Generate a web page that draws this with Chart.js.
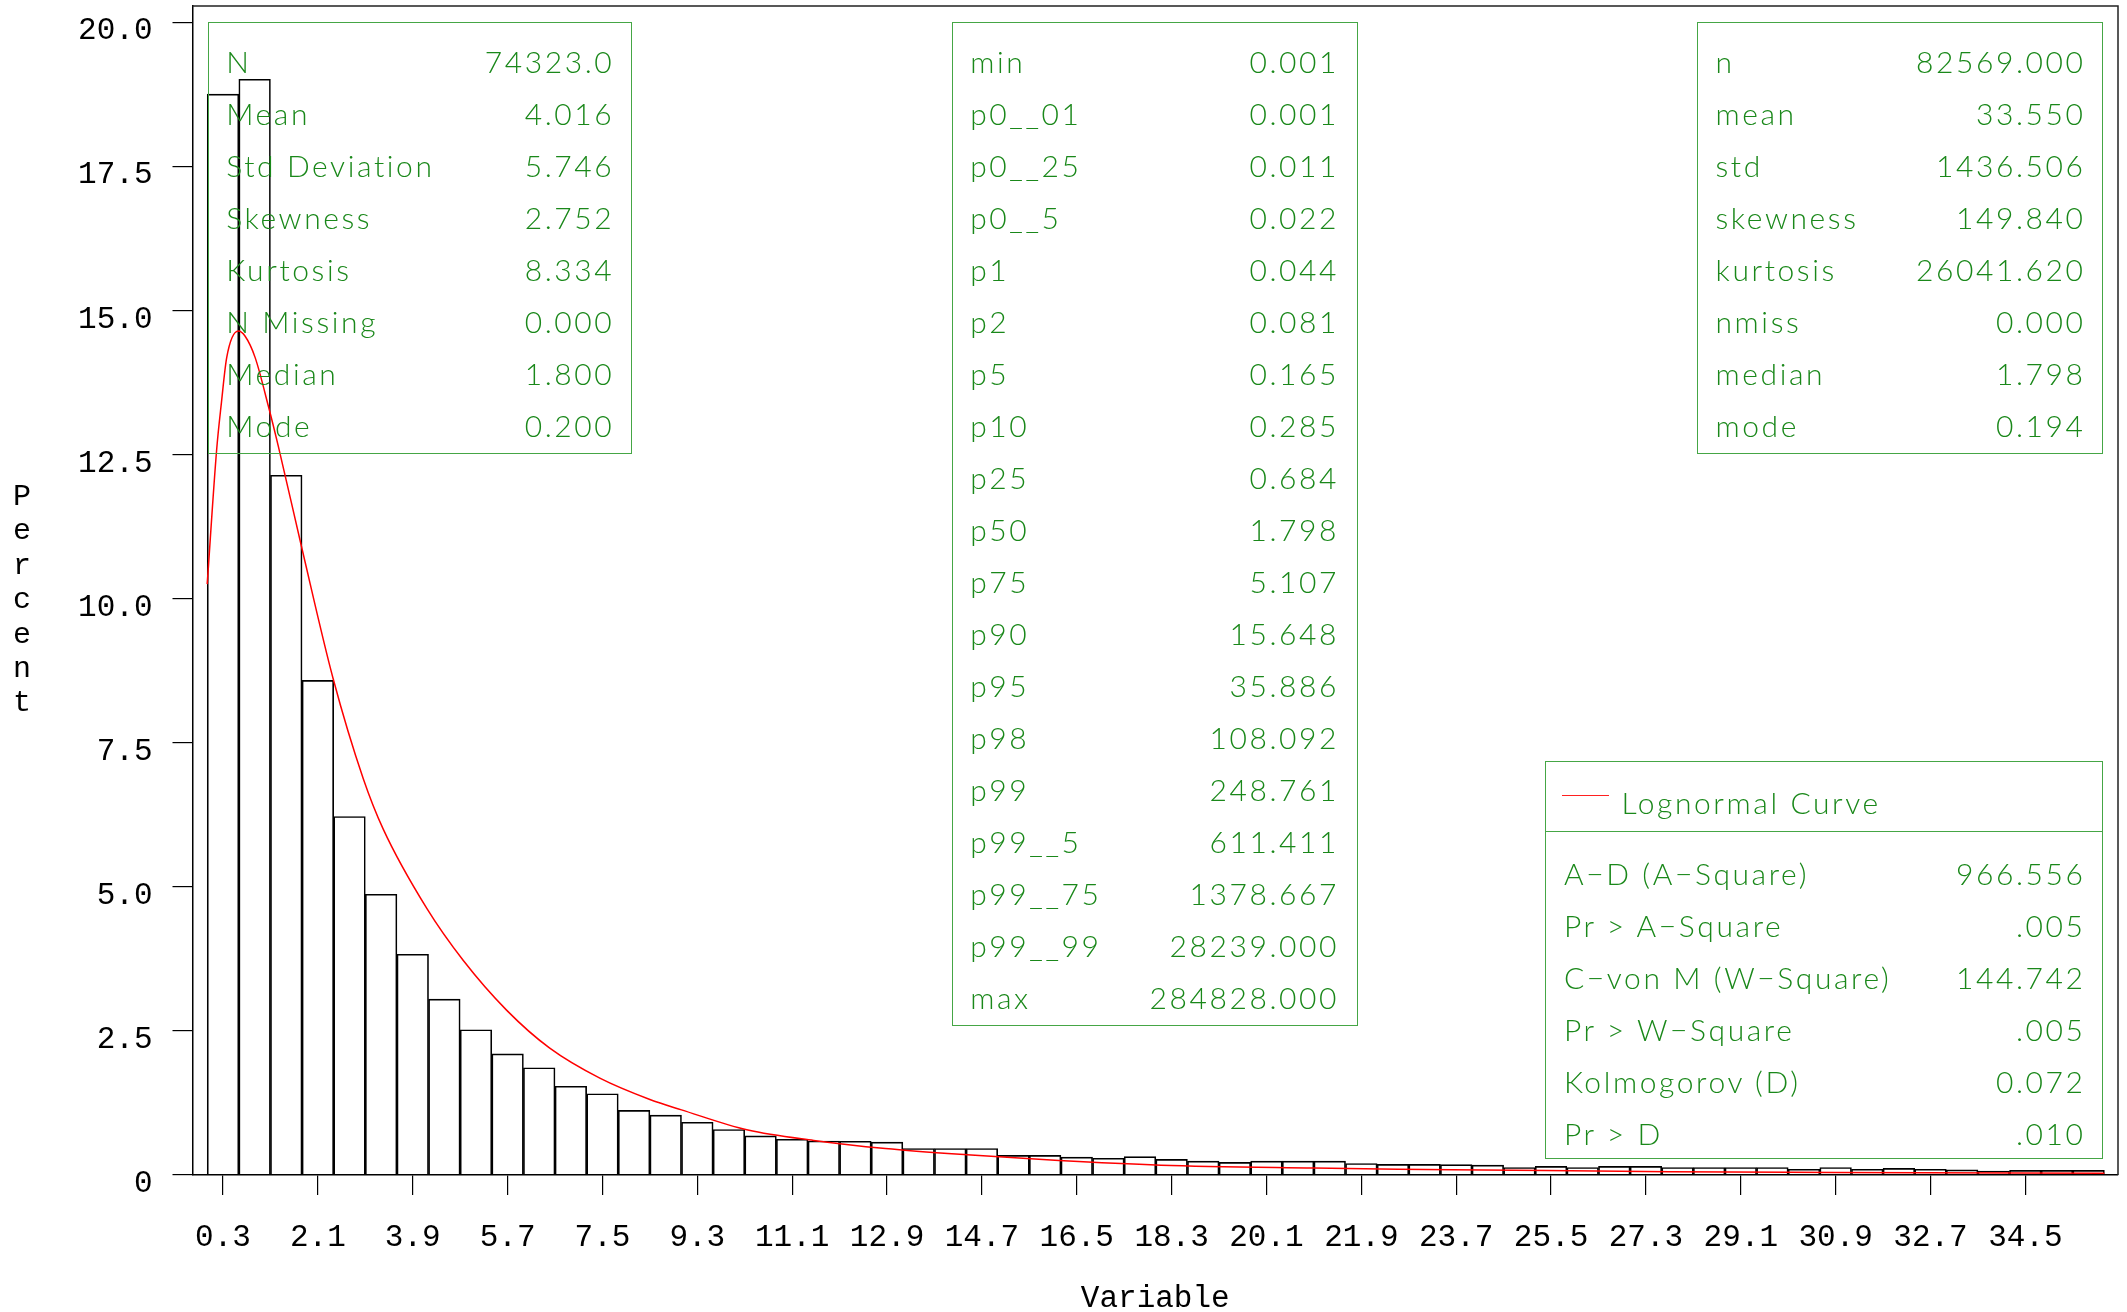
<!DOCTYPE html>
<html>
<head>
<meta charset="utf-8">
<script src="https://cdn.jsdelivr.net/npm/chart.js@4.4.1/dist/chart.umd.min.js"></script>
<style>
html,body{margin:0;padding:0;background:#fff;}
#wrap{position:relative;width:2127px;height:1312px;overflow:hidden;background:#fff;}
#c{position:absolute;left:0;top:0;}
.box{position:absolute;box-sizing:border-box;border:1.5px solid #45a645;font-family:Lato,'Open Sans',sans-serif;font-weight:300;font-size:30px;color:#1a881a;padding:12.5px 19px 0 17.5px;letter-spacing:2.6px;}
.row{display:flex;justify-content:space-between;height:52px;line-height:52px;white-space:pre;}
.row .v{margin-right:-2.6px;}
#b4 .legend{position:relative;height:70px;border-bottom:1.5px solid #45a645;margin:0 -19px 0 -17.5px;padding:13.5px 0 0 75px;box-sizing:border-box;line-height:52px;}
#b4 .legend .swatch{position:absolute;left:16px;top:33px;width:47px;height:0;border-top:1.5px solid #ff2020;}
#b4 .rows{padding-top:15px;}
#ylab{position:absolute;left:2px;top:480px;width:40px;text-align:center;font-family:'Liberation Mono',monospace;font-size:30px;line-height:34.4px;color:#000;}
</style>
</head>
<body>
<div id="wrap">
<canvas id="c" width="2127" height="1312"></canvas>
<div id="ylab"></div>
<div class="box" id="b1" style="left:207.7px;top:21.7px;width:424px;height:432.8px;"></div>
<div class="box" id="b2" style="left:951.7px;top:21.7px;width:406.8px;height:1004.6px;padding-right:21px;"></div>
<div class="box" id="b3" style="left:1697px;top:21.7px;width:406px;height:432.8px;"></div>
<div class="box" id="b4" style="left:1545.4px;top:761px;width:557.6px;height:398.3px;padding-top:0;"></div>
</div>
<script>
// ---- Histogram data (percent per bin, bin width 0.6) ----
const binMid = [0.3,0.9,1.5,2.1,2.7,3.3,3.9,4.5,5.1,5.7,6.3,6.9,7.5,8.1,8.7,9.3,9.9,10.5,11.1,11.7,
  12.3,12.9,13.5,14.1,14.7,15.3,15.9,16.5,17.1,17.7,18.3,18.9,19.5,20.1,20.7,21.3,21.9,22.5,23.1,23.7,
  24.3,24.9,25.5,26.1,26.7,27.3,27.9,28.5,29.1,29.7,30.3,30.9,31.5,32.1,32.7,33.3,33.9,34.5,35.1,35.7];
const percent = [18.75,19.01,12.14,8.58,6.22,4.87,3.83,3.05,2.52,2.10,1.86,1.54,1.41,1.12,1.04,0.915,0.79,0.68,0.62,0.59,
  0.585,0.57,0.46,0.46,0.46,0.34,0.34,0.31,0.29,0.32,0.27,0.24,0.22,0.24,0.24,0.24,0.20,0.185,0.185,0.18,
  0.17,0.13,0.15,0.13,0.15,0.15,0.13,0.13,0.13,0.13,0.10,0.13,0.10,0.115,0.10,0.09,0.07,0.08,0.08,0.08];

// ---- Fitted lognormal curve ----
const curveX = [0,0.18,0.27,0.37,0.59,0.72,0.91,1.16,1.35,1.8,2.39,2.96,3.34,4.17,4.86,5.68,6.5,7.45,8.4,9.0,
  10.26,11.51,12.87,14.42,16.16,18.1,21.0,22.6,24.2,27.76,30.9,36.0];
const curveY = [10.25,12.59,13.4,14.18,14.64,14.55,14.18,13.34,12.64,10.86,8.61,6.88,6.0,4.62,3.72,2.86,2.2,1.68,1.31,1.13,
  0.78,0.60,0.46,0.35,0.25,0.17,0.12,0.10,0.087,0.058,0.045,0.03];

// ---- Axis ticks ----
const xTickValues = [0.3,2.1,3.9,5.7,7.5,9.3,11.1,12.9,14.7,16.5,18.3,20.1,21.9,23.7,25.5,27.3,29.1,30.9,32.7,34.5];
const xTickLabels = ['0.3','2.1','3.9','5.7','7.5','9.3','11.1','12.9','14.7','16.5','18.3','20.1','21.9','23.7','25.5','27.3','29.1','30.9','32.7','34.5'];
const yTickValues = [0,2.5,5,7.5,10,12.5,15,17.5,20];
const yTickLabels = ['0','2.5','5.0','7.5','10.0','12.5','15.0','17.5','20.0'];
const xTitle = 'Variable';
const yTitle = 'Percent';

// ---- Inset tables ----
const box1Labels = ['N','Mean','Std Deviation','Skewness','Kurtosis','N Missing','Median','Mode'];
const box1Values = ['74323.0','4.016','5.746','2.752','8.334','0.000','1.800','0.200'];
const box2Labels = ['min','p0__01','p0__25','p0__5','p1','p2','p5','p10','p25','p50','p75','p90','p95','p98','p99','p99__5','p99__75','p99__99','max'];
const box2Values = ['0.001','0.001','0.011','0.022','0.044','0.081','0.165','0.285','0.684','1.798','5.107','15.648','35.886','108.092','248.761','611.411','1378.667','28239.000','284828.000'];
const box3Labels = ['n','mean','std','skewness','kurtosis','nmiss','median','mode'];
const box3Values = ['82569.000','33.550','1436.506','149.840','26041.620','0.000','1.798','0.194'];
const fitLegend = 'Lognormal Curve';
const box4Labels = ['A-D (A-Square)','Pr > A-Square','C-von M (W-Square)','Pr > W-Square','Kolmogorov (D)','Pr > D'];
const box4Values = ['966.556','.005','144.742','.005','0.072','.010'];

function fillRows(el, labels, values){
  labels.forEach((l,i)=>{
    const r=document.createElement('div'); r.className='row';
    const a=document.createElement('span'); a.textContent=l.replace(/-/g,'\u2212');
    const b=document.createElement('span'); b.className='v'; b.textContent=values[i];
    r.appendChild(a); r.appendChild(b); el.appendChild(r);
  });
}
fillRows(document.getElementById('b1'), box1Labels, box1Values);
fillRows(document.getElementById('b2'), box2Labels, box2Values);
fillRows(document.getElementById('b3'), box3Labels, box3Values);
(function(){
  const b4=document.getElementById('b4');
  const lg=document.createElement('div'); lg.className='legend';
  const sw=document.createElement('div'); sw.className='swatch'; lg.appendChild(sw);
  lg.appendChild(document.createTextNode(fitLegend));
  b4.appendChild(lg);
  const rows=document.createElement('div'); rows.className='rows';
  b4.appendChild(rows);
  fillRows(rows, box4Labels, box4Values);
})();
document.getElementById('ylab').innerHTML = yTitle.split('').join('<br>');

const framePlugin = {
  id:'frame',
  afterDraw(chart){
    const {ctx, chartArea:a} = chart;
    ctx.save();
    ctx.strokeStyle='#222'; ctx.lineWidth=1.5;
    ctx.beginPath();
    ctx.moveTo(a.left, a.top); ctx.lineTo(a.right, a.top); ctx.lineTo(a.right, a.bottom);
    ctx.stroke();
    ctx.restore();
  }
};

const monoFont = {family:"'Liberation Mono', monospace", size:31};
new Chart(document.getElementById('c').getContext('2d'), {
  type:'bar',
  data:{
    datasets:[
      {type:'line', data: curveX.map((x,i)=>({x:x, y:curveY[i]})), borderColor:'#ff0000', borderWidth:1.5,
       pointRadius:0, cubicInterpolationMode:'monotone', fill:false},
      {type:'bar', data: binMid.map((x,i)=>({x:x, y:percent[i]})), backgroundColor:'rgba(255,255,255,0)',
       borderColor:'#000', borderWidth:1, barPercentage:1, categoryPercentage:1}
    ]
  },
  options:{
    responsive:false, animation:false, devicePixelRatio:1,
    layout:{padding:{top:6,right:9,left:0,bottom:0}},
    plugins:{legend:{display:false}, tooltip:{enabled:false}},
    scales:{
      x:{type:'linear', min:-0.279, max:36.258, offset:false,
        afterBuildTicks:s=>{ s.ticks = xTickValues.map(v=>({value:v})); },
        afterFit:s=>{ s.height = 137; s.paddingLeft = 0; s.paddingRight = 0; },
        ticks:{autoSkip:false, maxRotation:0, minRotation:0, padding:24, font:monoFont, color:'#000',
          callback:(v,i)=>xTickLabels[i]},
        grid:{offset:false, drawOnChartArea:false, drawTicks:true, tickLength:20, color:'#000', lineWidth:1.2},
        border:{display:true, color:'#000', width:1.5},
        title:{display:true, text:xTitle, color:'#000', font:{family:"'Liberation Mono', monospace", size:31, lineHeight:0.8}, padding:{top:0,bottom:1}}
      },
      y:{type:'linear', min:0, max:20.28,
        afterBuildTicks:s=>{ s.ticks = yTickValues.map(v=>({value:v})); },
        afterFit:s=>{ s.width = 192.5; s.paddingTop = 0; s.paddingBottom = 0; },
        ticks:{autoSkip:false, padding:20, labelOffset:9, font:monoFont, color:'#000',
          callback:(v,i)=>yTickLabels[i]},
        grid:{drawOnChartArea:false, drawTicks:true, tickLength:20, color:'#000', lineWidth:1.2},
        border:{display:true, color:'#000', width:1.5}
      }
    }
  },
  plugins:[framePlugin]
});
</script>
</body>
</html>
